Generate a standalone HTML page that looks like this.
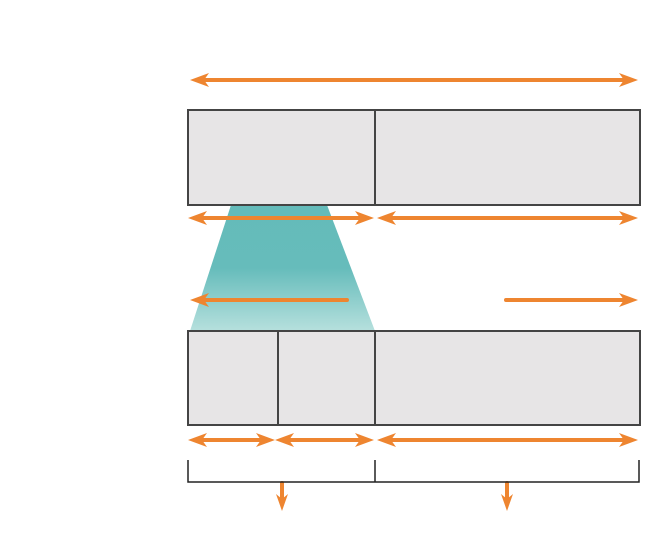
<!DOCTYPE html>
<html><head><meta charset="utf-8"><style>html,body{margin:0;padding:0;background:#fff}svg{display:block}</style></head>
<body>
<svg width="653" height="556" viewBox="0 0 653 556" xmlns="http://www.w3.org/2000/svg">
<defs>
<linearGradient id="t" x1="0" y1="0" x2="0" y2="1">
<stop offset="0" stop-color="#64bbba"/><stop offset="0.5" stop-color="#66bcbb"/><stop offset="1" stop-color="#b6e0dd"/>
</linearGradient>
<g id="hl"><polygon points="0,0 19,-7 14,0 19,7" fill="#ee8530"/></g>
<g id="hr"><polygon points="0,0 -19,-7 -14,0 -19,7" fill="#ee8530"/></g>
<g id="hd"><polygon points="0,0 -6,-17 0,-12 6,-17" fill="#ee8530"/></g>
</defs>
<polygon points="231,205 327,205 375,331 190,331" fill="url(#t)"/>
<g fill="#e7e5e6" stroke="#444" stroke-width="2">
<rect x="188" y="110" width="452" height="95"/>
<rect x="188" y="331" width="452" height="94"/>
</g>
<g stroke="#444" stroke-width="2">
<line x1="375" y1="110" x2="375" y2="205"/>
<line x1="278" y1="331" x2="278" y2="425"/>
<line x1="375" y1="331" x2="375" y2="425"/>
</g>
<g stroke="#ee8530" stroke-width="4" stroke-linecap="round">
<line x1="200" y1="80" x2="628" y2="80"/>
<line x1="198" y1="218" x2="364" y2="218"/>
<line x1="387" y1="218" x2="628" y2="218"/>
<line x1="200" y1="300" x2="347" y2="300"/>
<line x1="506" y1="300" x2="628" y2="300"/>
<line x1="198" y1="440" x2="265" y2="440"/>
<line x1="285" y1="440" x2="364" y2="440"/>
<line x1="387" y1="440" x2="628" y2="440"/>
<line x1="282" y1="483" x2="282" y2="500"/>
<line x1="507" y1="483" x2="507" y2="500"/>
</g>
<use href="#hl" x="190" y="80"/><use href="#hr" x="638" y="80"/>
<use href="#hl" x="188" y="218"/><use href="#hr" x="374" y="218"/>
<use href="#hl" x="377" y="218"/><use href="#hr" x="638" y="218"/>
<use href="#hl" x="190" y="300"/><use href="#hr" x="638" y="300"/>
<use href="#hl" x="188" y="440"/><use href="#hr" x="275" y="440"/>
<use href="#hl" x="275" y="440"/><use href="#hr" x="374" y="440"/>
<use href="#hl" x="377" y="440"/><use href="#hr" x="638" y="440"/>
<use href="#hd" x="282" y="511"/><use href="#hd" x="507" y="511"/>
<g stroke="#222" stroke-width="1.5" fill="none">
<polyline points="188,460 188,482 639,482 639,460"/>
<line x1="375" y1="460" x2="375" y2="482"/>
</g>
</svg>
</body></html>
